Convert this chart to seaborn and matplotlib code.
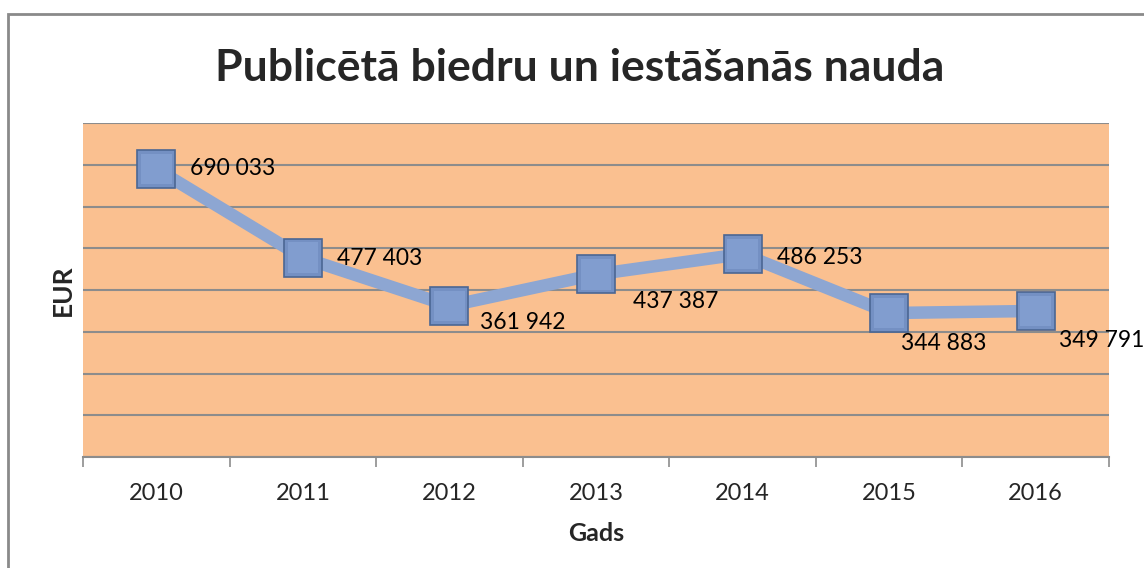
"""
Publicētā biedru un iestāšanās nauda, 2010-2016
"""

import matplotlib
matplotlib.use('Agg')
import matplotlib.pyplot as plt
from matplotlib.patches import Rectangle
import seaborn as sns
import pandas as pd

# data
years = ['2010', '2011', '2012', '2013', '2014', '2015', '2016']
amounts = [690033, 477403, 361942, 437387, 486253, 344883, 349791]

# label offsets in points (dx, dy) relative to marker centre
label_offsets = [(24.5, 0), (24.5, -0.7), (22.3, -12.2), (26.6, -19.4),
                 (24.5, -2.2), (8.6, -21.6), (16.5, -21.6)]

BG = '#FAC090'
GRID = '#8C8C8C'
LINE = '#8DA6D2'
MARK = '#7490C3'
MARK_INNER = '#819DCF'
MARK_EDGE = '#4B6693'


def fmt(v):
    return f'{v:,}'.replace(',', ' ')


def main():
    sns.set_theme(style='white')
    plt.rcParams['font.family'] = ['Lato', 'DejaVu Sans']

    df = pd.DataFrame({'pos': range(len(years)), 'amount': amounts})

    fig = plt.figure(figsize=(11.44, 5.68), dpi=100)
    ax = fig.add_axes([83 / 1144, 111 / 568, 1026 / 1144, 334 / 568])
    ax.set_facecolor(BG)

    sns.lineplot(data=df, x='pos', y='amount', ax=ax, color=LINE, linewidth=9,
                 marker='s', markersize=27, markerfacecolor=MARK,
                 markeredgecolor=MARK_EDGE, markeredgewidth=1.2, zorder=3)
    # lighter inner face for a bevel-like look
    sns.scatterplot(data=df, x='pos', y='amount', ax=ax, marker='s', s=480,
                    color=MARK_INNER, edgecolor='none', zorder=4, legend=False)

    for (x, y), (dx, dy) in zip(zip(df['pos'], df['amount']), label_offsets):
        ax.annotate(fmt(y), (x, y), xytext=(dx, dy), textcoords='offset points',
                    ha='left', va='center', fontsize=16.5, color='black', zorder=5,
                    annotation_clip=False)

    ax.set_xlim(-0.5, len(years) - 0.5)
    ax.set_ylim(0, 800000)
    ax.set_yticks(range(0, 800001, 100000))
    ax.set_yticklabels([])
    ax.tick_params(axis='y', length=0, pad=0)
    ax.grid(axis='y', color=GRID, linewidth=1.5)
    ax.grid(axis='x', visible=False)
    ax.set_axisbelow(True)

    ax.set_xticks(range(len(years)))
    ax.set_xticklabels(years, fontsize=17)
    ax.set_xticks([i - 0.5 for i in range(len(years) + 1)], minor=True)
    ax.tick_params(axis='x', which='major', length=0, pad=19)
    ax.tick_params(axis='x', which='minor', length=7, width=1.2, color=GRID,
                   bottom=True, direction='out')

    for side in ['top', 'left', 'right']:
        ax.spines[side].set_visible(False)
    ax.spines['bottom'].set_color(GRID)
    ax.spines['bottom'].set_linewidth(1.5)

    ax.set_xlabel('Gads', fontsize=18, fontweight='bold', labelpad=13)
    ax.set_ylabel('EUR', fontsize=19, fontweight='bold', labelpad=6)

    fig.text(580 / 1144, 1 - 68 / 568, 'Publicētā biedru un iestāšanās nauda',
             ha='center', va='center', fontsize=32, fontweight='bold')

    # chart border (top and left edges visible)
    fig.add_artist(Rectangle((8 / 1144, -0.1), 1.2, 1.1 - 14 / 568,
                             transform=fig.transFigure, fill=False,
                             edgecolor='#8A8A8A', linewidth=2))

    fig.savefig('out.png', dpi=100)
    plt.close(fig)


if __name__ == '__main__':
    main()
